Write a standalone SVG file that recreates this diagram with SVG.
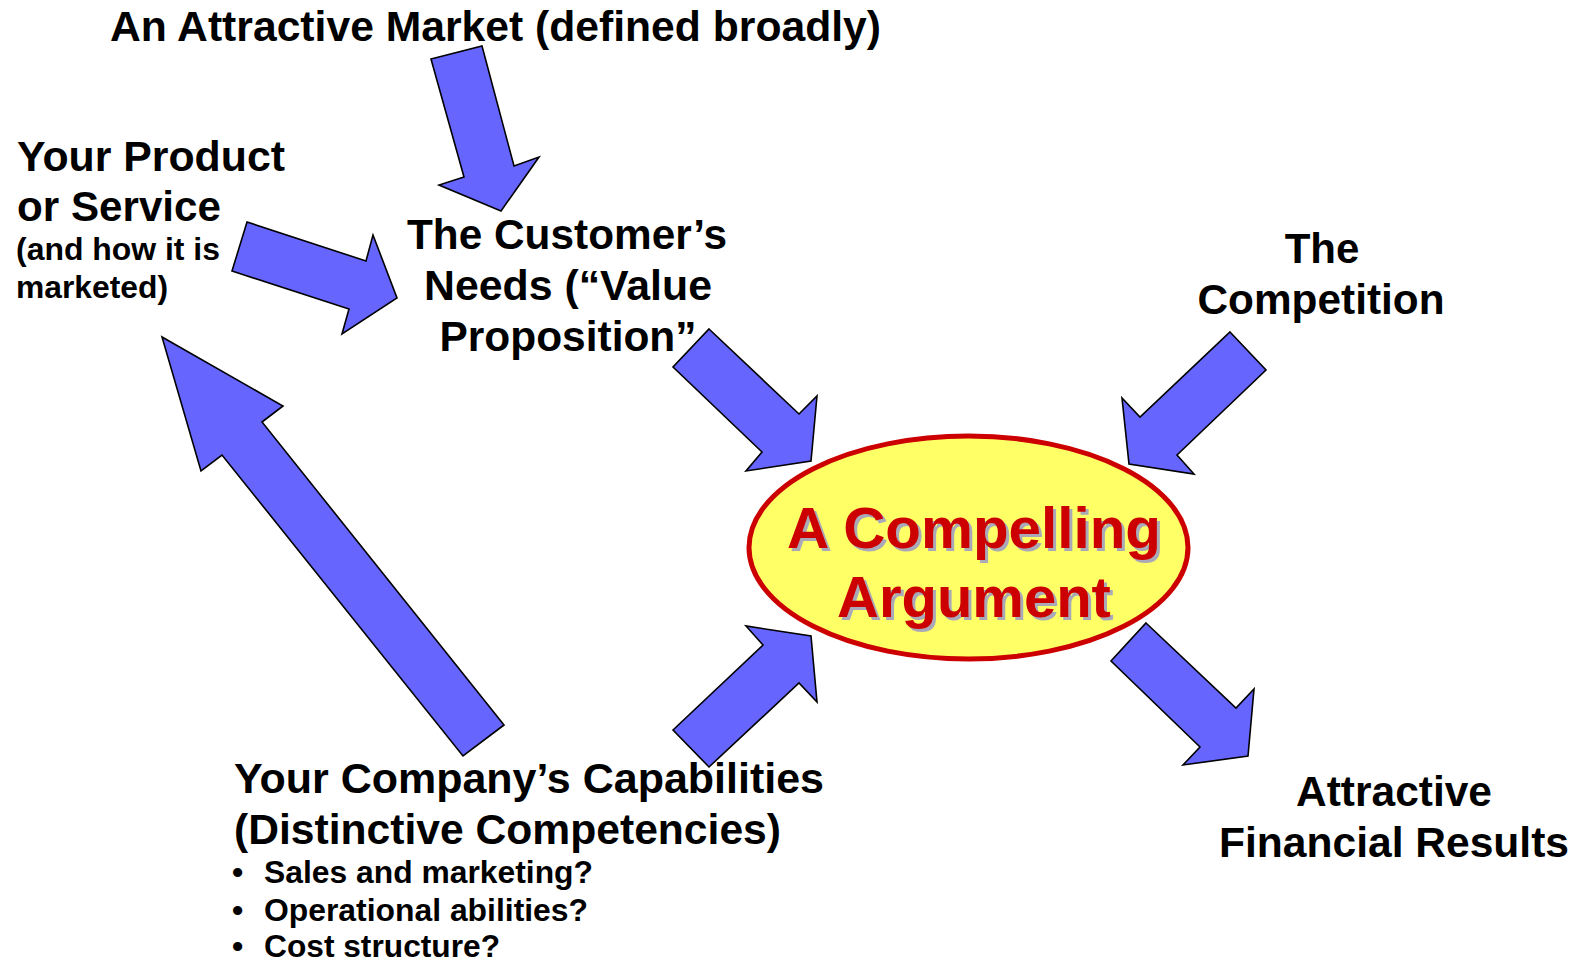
<svg xmlns="http://www.w3.org/2000/svg" width="1577" height="962" viewBox="0 0 1577 962">
  <style>
    .lbl { font-family: "Liberation Sans", Arial, sans-serif; font-weight: bold; fill: #000; }
    .big { font-size: 42px; }
    .sm { font-size: 32px; }
    .arrow { fill: #6666FF; stroke: #000; stroke-width: 1.6; stroke-linejoin: miter; }
    .core { font-family: "Liberation Sans", Arial, sans-serif; font-weight: bold; font-size: 58px; text-anchor: middle; }
  </style>
  <rect width="1577" height="962" fill="#FFFFFF"/>

  <!-- block arrows between the ideas -->
  <g id="connectors">
    <polygon class="arrow" points="431,59 482,46 514,166 539,157 501,211 439,185 464,177"/>
    <polygon class="arrow" points="247,222 366,261 373,235 397,298 342,334 349,309 232,271"/>
    <polygon class="arrow" points="504,725 262,422 283,406 162,337 201,471 222,455 463,756"/>
    <polygon class="arrow" points="709,329 799,414 817,396 811,461 746,471 762,452 673,367"/>
    <polygon class="arrow" points="1230,332 1266,370 1177,455 1194,474 1129,464 1122,398 1140,417"/>
    <polygon class="arrow" points="673,730 763,645 746,626 811,636 817,702 799,683 709,767"/>
    <polygon class="arrow" points="1146,623 1236,708 1254,689 1248,756 1183,765 1200,747 1111,661"/>
  </g>

  <g id="market">
    <text class="lbl big" x="110" y="41" textLength="771" lengthAdjust="spacingAndGlyphs">An Attractive Market (defined broadly)</text>
  </g>

  <g id="product">
    <text class="lbl big" x="17" y="171" textLength="268" lengthAdjust="spacingAndGlyphs">Your Product</text>
    <text class="lbl big" x="17" y="221" textLength="204" lengthAdjust="spacingAndGlyphs">or Service</text>
    <text class="lbl sm" x="16" y="260" textLength="204" lengthAdjust="spacingAndGlyphs">(and how it is</text>
    <text class="lbl sm" x="16" y="298" textLength="152" lengthAdjust="spacingAndGlyphs">marketed)</text>
  </g>

  <g id="needs">
    <text class="lbl big" x="567" y="249" text-anchor="middle" textLength="320" lengthAdjust="spacingAndGlyphs">The Customer’s</text>
    <text class="lbl big" x="568" y="300" text-anchor="middle" textLength="288" lengthAdjust="spacingAndGlyphs">Needs (“Value</text>
    <text class="lbl big" x="568" y="351" text-anchor="middle" textLength="257" lengthAdjust="spacingAndGlyphs">Proposition”</text>
  </g>

  <g id="competition">
    <text class="lbl big" x="1322" y="263" text-anchor="middle">The</text>
    <text class="lbl big" x="1321" y="314" text-anchor="middle" textLength="247" lengthAdjust="spacingAndGlyphs">Competition</text>
  </g>

  <g id="argument">
    <ellipse cx="968.5" cy="547.5" rx="219.5" ry="111.5" fill="#FFFF66" stroke="#CC0000" stroke-width="5"/>
    <text class="core" x="977" y="551" fill="#A9A9B8" textLength="374" lengthAdjust="spacingAndGlyphs">A Compelling</text>
    <text class="core" x="977" y="620" fill="#A9A9B8">Argument</text>
    <text class="core" x="974" y="548" fill="#CC0000" textLength="374" lengthAdjust="spacingAndGlyphs">A Compelling</text>
    <text class="core" x="974" y="617" fill="#CC0000">Argument</text>
  </g>

  <g id="results">
    <text class="lbl big" x="1394" y="806" text-anchor="middle" textLength="196" lengthAdjust="spacingAndGlyphs">Attractive</text>
    <text class="lbl big" x="1394" y="857" text-anchor="middle" textLength="350" lengthAdjust="spacingAndGlyphs">Financial Results</text>
  </g>

  <g id="capabilities">
    <text class="lbl big" x="234" y="793" textLength="590" lengthAdjust="spacingAndGlyphs">Your Company’s Capabilities</text>
    <text class="lbl big" x="234" y="844" textLength="547" lengthAdjust="spacingAndGlyphs">(Distinctive Competencies)</text>
    <text class="lbl sm" x="232" y="883">•</text>
    <text class="lbl sm" x="264" y="883" textLength="329" lengthAdjust="spacingAndGlyphs">Sales and marketing?</text>
    <text class="lbl sm" x="232" y="921">•</text>
    <text class="lbl sm" x="264" y="921" textLength="324" lengthAdjust="spacingAndGlyphs">Operational abilities?</text>
    <text class="lbl sm" x="232" y="957">•</text>
    <text class="lbl sm" x="264" y="957" textLength="236" lengthAdjust="spacingAndGlyphs">Cost structure?</text>
  </g>
</svg>
